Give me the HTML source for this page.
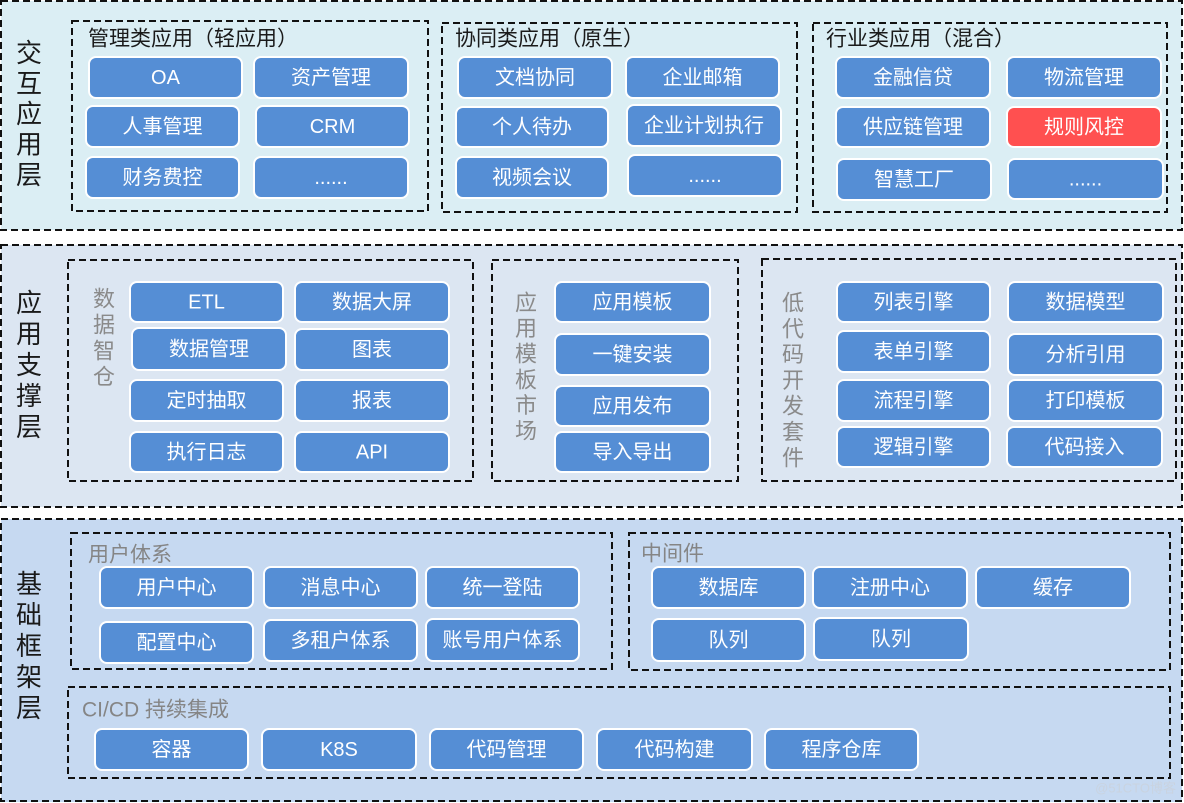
<!DOCTYPE html>
<html><head><meta charset="utf-8"><style>
html,body{margin:0;padding:0;background:#fff;}
svg{display:block;}
text{font-family:"Liberation Sans","Noto Sans CJK SC",sans-serif;}
.bx{fill:#558ED5;stroke:#fff;stroke-width:2;}
.rd{fill:#FF5050;stroke:#fff;stroke-width:2;}
.bt{fill:#fff;font-size:20px;text-anchor:middle;dominant-baseline:central;}
.dash{fill:none;stroke:#111;stroke-width:2;stroke-dasharray:7 4;}
.tt{fill:#1a1a1a;font-size:21px;dominant-baseline:central;}
.gt{fill:#858585;font-size:21px;dominant-baseline:central;}
.ll{fill:#1a1a1a;font-size:26px;text-anchor:middle;dominant-baseline:central;}
.vl{fill:#8a8a8a;font-size:22px;text-anchor:middle;dominant-baseline:central;}
</style></head><body>
<svg width="1184" height="803" viewBox="0 0 1184 803" xmlns="http://www.w3.org/2000/svg">
<!-- layers -->
<rect x="1" y="1" width="1181" height="229" fill="#DBEEF4"/>
<rect x="1" y="1" width="1181" height="229" class="dash"/>
<rect x="1" y="245" width="1181" height="262" fill="#DCE6F2"/>
<rect x="1" y="245" width="1181" height="262" class="dash"/>
<rect x="1" y="519" width="1181" height="283" fill="#C6D9F1"/>
<rect x="1" y="519" width="1181" height="282" class="dash"/>

<!-- layer labels -->
<g class="ll">
<text x="29" y="53">交</text><text x="29" y="83.5">互</text><text x="29" y="114">应</text><text x="29" y="144.5">用</text><text x="29" y="175">层</text>
<text x="29" y="303">应</text><text x="29" y="334">用</text><text x="29" y="365">支</text><text x="29" y="396">撑</text><text x="29" y="427">层</text>
<text x="29" y="584">基</text><text x="29" y="615">础</text><text x="29" y="646">框</text><text x="29" y="677">架</text><text x="29" y="708">层</text>
</g>

<!-- layer1 groups -->
<rect x="72" y="21" width="356" height="190" class="dash"/>
<rect x="442" y="23" width="355" height="189" class="dash"/>
<rect x="813" y="23" width="354" height="189" class="dash"/>
<text class="tt" x="88" y="39">管理类应用（轻应用）</text>
<text class="tt" x="455" y="39">协同类应用（原生）</text>
<text class="tt" x="826" y="39">行业类应用（混合）</text>

<!-- layer2 groups -->
<rect x="68" y="260" width="405" height="221" class="dash"/>
<rect x="492" y="260" width="246" height="221" class="dash"/>
<rect x="762" y="259" width="414" height="222" class="dash"/>
<g class="vl">
<text x="104" y="299">数</text><text x="104" y="325">据</text><text x="104" y="351">智</text><text x="104" y="377">仓</text>
<text x="526" y="303">应</text><text x="526" y="328.6">用</text><text x="526" y="354.2">模</text><text x="526" y="379.8">板</text><text x="526" y="405.4">市</text><text x="526" y="431">场</text>
<text x="793" y="303">低</text><text x="793" y="328.8">代</text><text x="793" y="354.6">码</text><text x="793" y="380.4">开</text><text x="793" y="406.2">发</text><text x="793" y="432">套</text><text x="793" y="458">件</text>
</g>

<!-- layer3 groups -->
<rect x="71" y="533" width="541" height="136" class="dash"/>
<rect x="629" y="533" width="541" height="137" class="dash"/>
<rect x="68" y="687" width="1102" height="91" class="dash"/>
<text class="gt" x="88" y="555">用户体系</text>
<text class="gt" x="641" y="554">中间件</text>
<text class="gt" x="82" y="710">CI/CD 持续集成</text>

<!-- boxes layer1 -->
<rect class="bx" x="89" y="57" width="153" height="41" rx="7"/><text class="bt" x="165.5" y="78">OA</text>
<rect class="bx" x="254" y="57" width="154" height="41" rx="7"/><text class="bt" x="331" y="78">资产管理</text>
<rect class="bx" x="86" y="106" width="153" height="41" rx="7"/><text class="bt" x="162.5" y="127">人事管理</text>
<rect class="bx" x="256" y="106" width="153" height="41" rx="7"/><text class="bt" x="332.5" y="127">CRM</text>
<rect class="bx" x="86" y="157" width="153" height="41" rx="7"/><text class="bt" x="162.5" y="178">财务费控</text>
<rect class="bx" x="254" y="157" width="154" height="41" rx="7"/><text class="bt" x="331" y="178">......</text>

<rect class="bx" x="458" y="57" width="154" height="41" rx="7"/><text class="bt" x="535" y="78">文档协同</text>
<rect class="bx" x="626" y="57" width="153" height="41" rx="7"/><text class="bt" x="702.5" y="78">企业邮箱</text>
<rect class="bx" x="456" y="107" width="152" height="40" rx="7"/><text class="bt" x="532" y="127.5">个人待办</text>
<rect class="bx" x="627" y="105" width="154" height="41" rx="7"/><text class="bt" x="704" y="126">企业计划执行</text>
<rect class="bx" x="456" y="157" width="152" height="41" rx="7"/><text class="bt" x="532" y="178">视频会议</text>
<rect class="bx" x="628" y="155" width="154" height="41" rx="7"/><text class="bt" x="705" y="176">......</text>

<rect class="bx" x="836" y="57" width="154" height="41" rx="7"/><text class="bt" x="913" y="78">金融信贷</text>
<rect class="bx" x="1007" y="57" width="154" height="41" rx="7"/><text class="bt" x="1084" y="78">物流管理</text>
<rect class="bx" x="836" y="107" width="154" height="40" rx="7"/><text class="bt" x="913" y="127.5">供应链管理</text>
<rect class="rd" x="1007" y="107" width="154" height="40" rx="7"/><text class="bt" x="1084" y="127.5">规则风控</text>
<rect class="bx" x="837" y="159" width="154" height="41" rx="7"/><text class="bt" x="914" y="180">智慧工厂</text>
<rect class="bx" x="1008" y="159" width="155" height="40" rx="7"/><text class="bt" x="1085.5" y="179.5">......</text>

<!-- boxes layer2 -->
<rect class="bx" x="130" y="282" width="153" height="40" rx="7"/><text class="bt" x="206.5" y="302.5">ETL</text>
<rect class="bx" x="295" y="282" width="154" height="40" rx="7"/><text class="bt" x="372" y="302.5">数据大屏</text>
<rect class="bx" x="132" y="328" width="154" height="42" rx="7"/><text class="bt" x="209" y="349.5">数据管理</text>
<rect class="bx" x="295" y="329" width="154" height="41" rx="7"/><text class="bt" x="372" y="350">图表</text>
<rect class="bx" x="130" y="380" width="153" height="41" rx="7"/><text class="bt" x="206.5" y="401">定时抽取</text>
<rect class="bx" x="295" y="380" width="154" height="41" rx="7"/><text class="bt" x="372" y="401">报表</text>
<rect class="bx" x="130" y="432" width="153" height="40" rx="7"/><text class="bt" x="206.5" y="452.5">执行日志</text>
<rect class="bx" x="295" y="432" width="154" height="40" rx="7"/><text class="bt" x="372" y="452.5">API</text>

<rect class="bx" x="555" y="282" width="155" height="40" rx="7"/><text class="bt" x="632.5" y="302.5">应用模板</text>
<rect class="bx" x="555" y="334" width="155" height="41" rx="7"/><text class="bt" x="632.5" y="355">一键安装</text>
<rect class="bx" x="555" y="386" width="155" height="40" rx="7"/><text class="bt" x="632.5" y="406.5">应用发布</text>
<rect class="bx" x="555" y="432" width="155" height="40" rx="7"/><text class="bt" x="632.5" y="452.5">导入导出</text>

<rect class="bx" x="837" y="282" width="153" height="40" rx="7"/><text class="bt" x="913.5" y="302.5">列表引擎</text>
<rect class="bx" x="1008" y="282" width="155" height="40" rx="7"/><text class="bt" x="1085.5" y="302.5">数据模型</text>
<rect class="bx" x="837" y="331" width="153" height="41" rx="7"/><text class="bt" x="913.5" y="352">表单引擎</text>
<rect class="bx" x="1008" y="334" width="155" height="41" rx="7"/><text class="bt" x="1085.5" y="355">分析引用</text>
<rect class="bx" x="837" y="380" width="153" height="41" rx="7"/><text class="bt" x="913.5" y="401">流程引擎</text>
<rect class="bx" x="1008" y="380" width="155" height="41" rx="7"/><text class="bt" x="1085.5" y="401">打印模板</text>
<rect class="bx" x="837" y="427" width="153" height="40" rx="7"/><text class="bt" x="913.5" y="447.5">逻辑引擎</text>
<rect class="bx" x="1007" y="427" width="155" height="40" rx="7"/><text class="bt" x="1084.5" y="447.5">代码接入</text>

<!-- boxes layer3 -->
<rect class="bx" x="100" y="567" width="153" height="41" rx="7"/><text class="bt" x="176.5" y="588">用户中心</text>
<rect class="bx" x="264" y="567" width="153" height="41" rx="7"/><text class="bt" x="340.5" y="588">消息中心</text>
<rect class="bx" x="426" y="567" width="153" height="41" rx="7"/><text class="bt" x="502.5" y="588">统一登陆</text>
<rect class="bx" x="100" y="622" width="153" height="41" rx="7"/><text class="bt" x="176.5" y="643">配置中心</text>
<rect class="bx" x="264" y="620" width="153" height="41" rx="7"/><text class="bt" x="340.5" y="641">多租户体系</text>
<rect class="bx" x="426" y="619" width="153" height="42" rx="7"/><text class="bt" x="502.5" y="640.5">账号用户体系</text>

<rect class="bx" x="652" y="567" width="153" height="41" rx="7"/><text class="bt" x="728.5" y="588">数据库</text>
<rect class="bx" x="813" y="567" width="154" height="41" rx="7"/><text class="bt" x="890" y="588">注册中心</text>
<rect class="bx" x="976" y="567" width="154" height="41" rx="7"/><text class="bt" x="1053" y="588">缓存</text>
<rect class="bx" x="652" y="619" width="153" height="42" rx="7"/><text class="bt" x="728.5" y="640.5">队列</text>
<rect class="bx" x="814" y="618" width="154" height="42" rx="7"/><text class="bt" x="891" y="639.5">队列</text>

<rect class="bx" x="95" y="729" width="153" height="41" rx="7"/><text class="bt" x="171.5" y="750">容器</text>
<rect class="bx" x="262" y="729" width="154" height="41" rx="7"/><text class="bt" x="339" y="750">K8S</text>
<rect class="bx" x="430" y="729" width="153" height="41" rx="7"/><text class="bt" x="506.5" y="750">代码管理</text>
<rect class="bx" x="597" y="729" width="155" height="41" rx="7"/><text class="bt" x="674.5" y="750">代码构建</text>
<rect class="bx" x="765" y="729" width="153" height="41" rx="7"/><text class="bt" x="841.5" y="750">程序仓库</text>

<text x="1176" y="788" font-size="13" fill="#c9d3e0" text-anchor="end" dominant-baseline="central">@51CTO博客</text>
</svg>
</body></html>
